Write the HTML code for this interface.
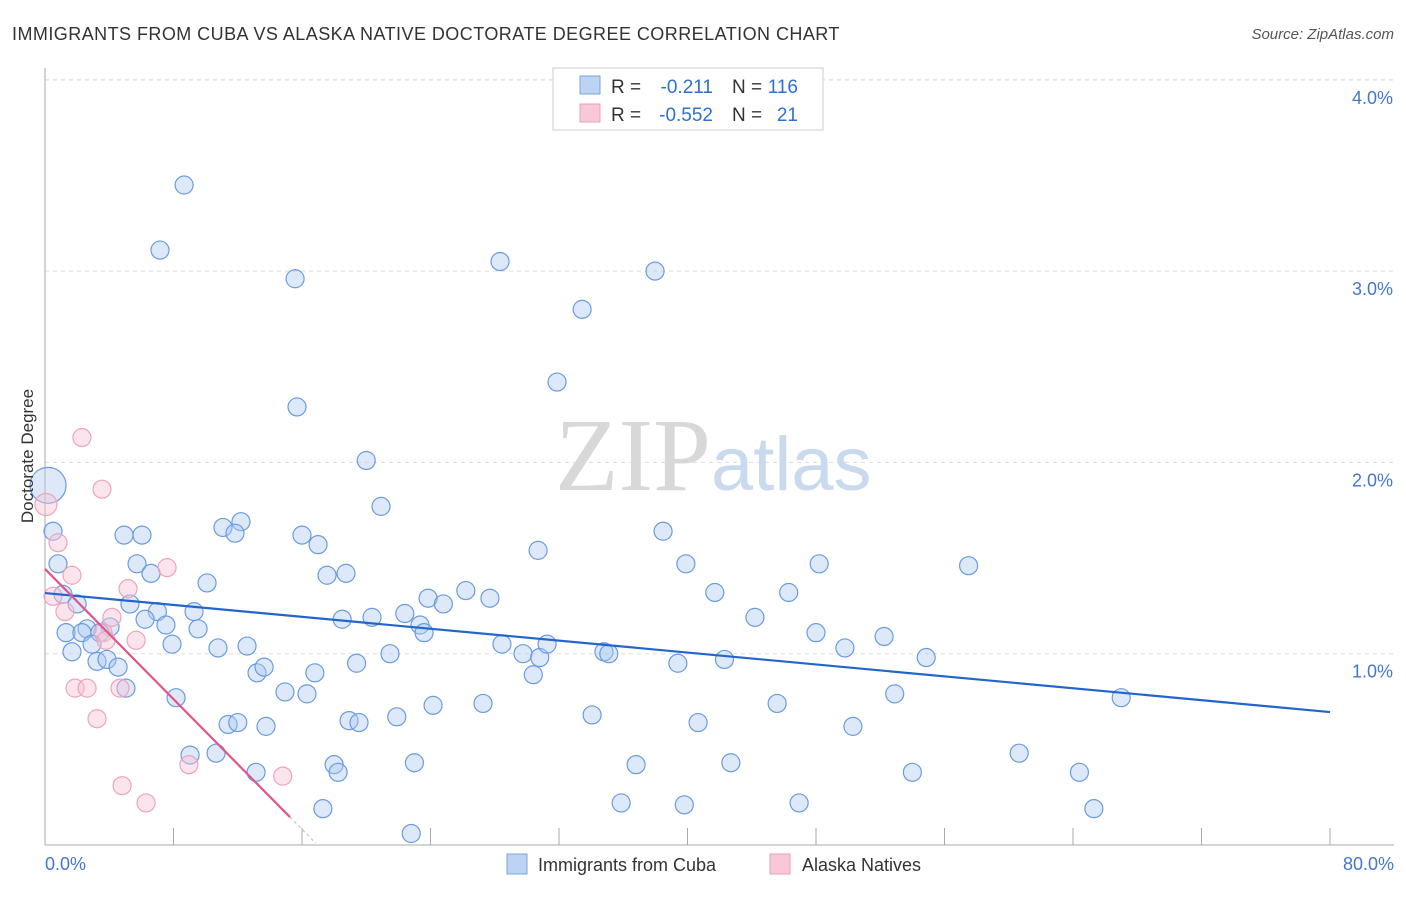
<!DOCTYPE html>
<html><head><meta charset="utf-8"><style>
body{margin:0;background:#fff;font-family:"Liberation Sans",sans-serif;}
svg text{font-family:"Liberation Sans",sans-serif;}
</style></head><body>
<svg width="1406" height="892" viewBox="0 0 1406 892">
<text x="12" y="40" font-size="18" fill="#333" letter-spacing="0.45">IMMIGRANTS FROM CUBA VS ALASKA NATIVE DOCTORATE DEGREE CORRELATION CHART</text>
<text x="1394" y="39" font-size="15" fill="#555" font-style="italic" text-anchor="end">Source: ZipAtlas.com</text>
<g id="grid"></g>
<text x="555" y="490" font-size="104" fill="#d8d8d8" font-family="Liberation Serif"><tspan fill="#d8d8d8" font-family="Liberation Serif">ZIP</tspan><tspan fill="#c9d9ee" font-family="Liberation Sans" font-size="76">atlas</tspan></text>
<g id="pts"></g>
<g id="lines"></g>
<text transform="translate(33,456) rotate(-90)" font-size="17" fill="#333" text-anchor="middle">Doctorate Degree</text>
<text x="45" y="870" font-size="18" fill="#4477cc">0.0%</text>
<text x="1394" y="870" font-size="18" fill="#4477cc" text-anchor="end">80.0%</text>
<g>
<rect x="553" y="68" width="270" height="62" fill="#fff" stroke="#ccc"/>
<rect x="580" y="76" width="20" height="18" fill="#bcd3f2" stroke="#7aa3dd"/>
<rect x="580" y="104" width="20" height="18" fill="#f8c8d6" stroke="#eaa0b8"/>
<text x="611" y="93" font-size="19" fill="#333">R =</text>
<text x="713" y="93" font-size="19" fill="#2f6fd0" text-anchor="end">-0.211</text>
<text x="732" y="93" font-size="19" fill="#333">N =</text>
<text x="798" y="93" font-size="19" fill="#2f6fd0" text-anchor="end">116</text>
<text x="611" y="121" font-size="19" fill="#333">R =</text>
<text x="713" y="121" font-size="19" fill="#2f6fd0" text-anchor="end">-0.552</text>
<text x="732" y="121" font-size="19" fill="#333">N =</text>
<text x="798" y="121" font-size="19" fill="#2f6fd0" text-anchor="end">21</text>
</g>
<g>
<rect x="507" y="854" width="20" height="20" fill="#bcd3f2" stroke="#7aa3dd"/>
<text x="538" y="871" font-size="18" fill="#333">Immigrants from Cuba</text>
<rect x="770" y="854" width="20" height="20" fill="#f8c8d6" stroke="#eaa0b8"/>
<text x="802" y="871" font-size="18" fill="#333">Alaska Natives</text>
</g>
</svg>
<script>
const blueX=[8.66,7.16,15.57,28.33,37.98,33.44,31.88,15.69,20.0,20.92,0.5,4.92,6.04,11.08,12.2,11.83,16.0,17.0,30.7,38.48,0.81,5.73,6.6,10.09,17.56,18.74,39.9,48.2,57.5,1.12,2.0,5.29,7.0,9.28,6.23,7.53,4.05,2.62,1.31,2.3,3.42,9.53,7.91,2.93,1.68,3.24,3.86,4.55,5.04,8.16,10.77,12.58,13.2,13.64,14.94,16.31,16.8,18.5,20.36,19.4,21.48,22.4,23.35,23.6,23.85,24.8,26.2,27.7,28.45,29.76,30.8,31.26,30.4,34.8,35.1,39.4,41.7,42.3,44.2,46.3,48.0,49.8,52.24,54.86,52.9,67.0,24.16,27.27,21.9,18.93,19.55,11.4,12.0,13.76,34.06,40.66,45.58,50.3,9.03,10.65,13.14,18.0,18.25,23.0,36.8,42.7,54.0,60.65,64.4,65.3,17.3,22.8,35.87,39.8,46.95];
const blueY=[3.45,3.11,2.96,3.05,3.00,2.80,2.42,2.29,2.01,1.77,1.64,1.62,1.62,1.66,1.69,1.63,1.62,1.57,1.54,1.64,1.47,1.47,1.42,1.37,1.41,1.42,1.47,1.47,1.46,1.31,1.26,1.26,1.22,1.22,1.18,1.15,1.14,1.13,1.11,1.11,1.11,1.13,1.05,1.05,1.01,0.96,0.97,0.93,0.82,0.77,1.03,1.04,0.90,0.93,0.80,0.79,0.90,1.18,1.19,0.95,1.00,1.21,1.15,1.11,1.29,1.26,1.33,1.29,1.05,1.00,0.98,1.05,0.89,1.01,1.00,0.95,1.32,0.97,1.19,1.32,1.11,1.03,1.09,0.98,0.79,0.77,0.73,0.74,0.67,0.65,0.64,0.63,0.64,0.62,0.68,0.64,0.74,0.62,0.47,0.48,0.38,0.42,0.38,0.43,0.42,0.43,0.38,0.48,0.38,0.19,0.19,0.06,0.22,0.21,0.22];
const pinkX=[2.3,3.55,0.81,1.68,0.5,1.24,4.17,5.17,7.6,3.61,3.8,5.67,1.87,2.62,4.67,3.24,8.96,14.8,4.8,6.29];
const pinkY=[2.13,1.86,1.58,1.41,1.30,1.22,1.19,1.34,1.45,1.11,1.07,1.07,0.82,0.82,0.82,0.66,0.42,0.36,0.31,0.22];
const bigBlue=[0.19,1.88], bigPink=[0.06,1.78];
const blueTrend=[[0,1.317],[80,0.695]];
const pinkTrend=[[0,1.443],[15.25,0.146]];
const yTicks=[1,2,3,4];
const xTicks=[0,8,16,24,32,40,48,56,64,72,80];
const X=v=>45+v*1285/80, Y=v=>845-v*191.3;
const NS="http://www.w3.org/2000/svg";
function mk(tag,attrs,parent){const e=document.createElementNS(NS,tag);for(const k in attrs)e.setAttribute(k,attrs[k]);parent.appendChild(e);return e;}
const grid=document.getElementById('grid');
yTicks.forEach(t=>{
 const l=mk('line',{x1:45,x2:1394,y1:Y(t),y2:Y(t),stroke:'#ddd','stroke-dasharray':'4,4'},grid);
 
 
 const tx=mk('text',{x:1393,y:Y(t)+24,'font-size':18,fill:'#4477cc','text-anchor':'end'},grid);
 tx.textContent=t.toFixed(1)+'%';
 
 
});
mk('line',{x1:45,x2:1394,y1:80,y2:80,stroke:'#ddd','stroke-dasharray':'4,4'},grid);
const ax=mk('line',{x1:45,x2:45,y1:68,y2:845,stroke:'#aaa'},grid);


const xa=mk('line',{x1:45,x2:1394,y1:845,y2:845,stroke:'#aaa'},grid);


xTicks.forEach(t=>{
 const l=mk('line',{x1:X(t),x2:X(t),y1:828,y2:845,stroke:'#aaa'},grid);
 
 
});
const pts=document.getElementById('pts');
blueX.forEach((x,i)=>{
 const c=mk('circle',{cx:X(x),cy:Y(blueY[i]),r:9,fill:'rgba(170,200,240,0.4)',stroke:'#6a9be0','stroke-width':1.2},pts);
 
 
});
pinkX.forEach((x,i)=>{
 const c=mk('circle',{cx:X(x),cy:Y(pinkY[i]),r:9,fill:'rgba(248,195,212,0.45)',stroke:'#eca4bc','stroke-width':1.2},pts);
 
 
});
const bb=mk('circle',{cx:X(bigBlue[0]),cy:Y(bigBlue[1]),r:18,fill:'rgba(170,200,240,0.4)',stroke:'#6a9be0','stroke-width':1.2},pts);


const bp=mk('circle',{cx:X(bigPink[0]),cy:Y(bigPink[1]),r:11,fill:'rgba(248,195,212,0.45)',stroke:'#eca4bc','stroke-width':1.2},pts);


const lines=document.getElementById('lines');
const bl=mk('line',{x1:X(blueTrend[0][0]),y1:Y(blueTrend[0][1]),x2:X(blueTrend[1][0]),y2:Y(blueTrend[1][1]),stroke:'#2266cc','stroke-width':2.2},lines);


const pl=mk('line',{x1:X(pinkTrend[0][0]),y1:Y(pinkTrend[0][1]),x2:X(pinkTrend[1][0]),y2:Y(pinkTrend[1][1]),stroke:'#e0558a','stroke-width':2.2},lines);


const slope=(pinkTrend[1][1]-pinkTrend[0][1])/(pinkTrend[1][0]-pinkTrend[0][0]);
const xe=pinkTrend[1][0]+1.6;
const pd=mk('line',{x1:X(pinkTrend[1][0]),y1:Y(pinkTrend[1][1]),x2:X(xe),y2:Y(pinkTrend[1][1]+slope*1.6),stroke:'#ccc','stroke-width':1.5,'stroke-dasharray':'3,3'},lines);


</script>
</body></html>
